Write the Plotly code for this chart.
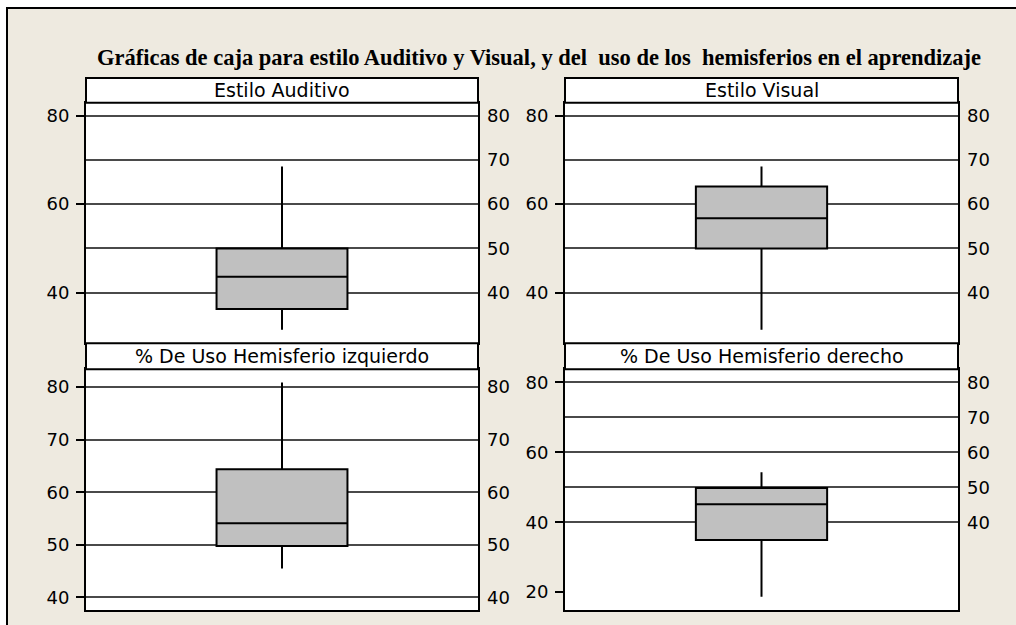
import plotly.graph_objects as go

W, H = 1016, 625

# Box-plot summaries for each panel
panels = ["Estilo Auditivo", "Estilo Visual",
          "% De Uso Hemisferio izquierdo", "% De Uso Hemisferio derecho"]
q1_vals = [36.3, 50.0, 49.8, 34.9]
median_vals = [43.6, 56.8, 54.1, 45.1]
q3_vals = [50.0, 64.0, 64.4, 49.8]
lower_whisker = [31.6, 31.6, 45.5, 18.7]
upper_whisker = [68.5, 68.5, 80.9, 54.3]

# Axis scales and tick labels for each panel
y_ranges = [[28.7, 82.9], [28.7, 82.9], [37.6, 83.4], [14.9, 83.7]]
left_ticks = [[40, 60, 80], [40, 60, 80], [40, 50, 60, 70, 80], [20, 40, 60, 80]]
right_ticks = [[40, 50, 60, 70, 80]] * 4

title = "Gráficas de caja para estilo Auditivo y Visual, y del\u00a0 uso de los\u00a0 hemisferios en el aprendizaje"

BG = "#EEEAE0"
BOX_FILL = "#C0C0C0"
GRID = "#4a4a4a"

# panel frames in pixels: (x0, x1), (ytop, ybottom)
cols = [(86, 478), (565, 958)]
rows = [(102.7, 342.7), (369.3, 610)]
strips = [(78, 102.7), (343.3, 369.3)]


def px_x(v):
    return v / W


def px_y(v):
    return 1 - v / H


fig = go.Figure()
layout = dict(
    width=W, height=H,
    margin=dict(l=0, r=0, t=0, b=0),
    paper_bgcolor=BG, plot_bgcolor="white",
    showlegend=False,
    font=dict(family="DejaVu Sans", size=18, color="black"),
)
shapes = []
annotations = []

for i, name in enumerate(panels):
    r, c = divmod(i, 2)
    n = i + 1
    xs = "x" if n == 1 else f"x{n}"
    ys = "y" if n == 1 else f"y{n}"
    yr = f"y{n + 4}"
    xdom = [px_x(cols[c][0]), px_x(cols[c][1])]
    ydom = [px_y(rows[r][1]), px_y(rows[r][0])]

    fig.add_trace(go.Box(
        x=[0], q1=[q1_vals[i]], median=[median_vals[i]], q3=[q3_vals[i]],
        lowerfence=[lower_whisker[i]], upperfence=[upper_whisker[i]],
        width=0.334, whiskerwidth=0,
        fillcolor=BOX_FILL, line=dict(color="black", width=2),
        xaxis=xs, yaxis=ys, hoverinfo="skip",
    ))

    layout[f"xaxis{n}" if n > 1 else "xaxis"] = dict(
        domain=xdom, range=[-0.5, 0.5], anchor=ys,
        showticklabels=False, ticks="", showgrid=False, zeroline=False,
        showline=True, mirror=True, linecolor="black", linewidth=2,
    )
    layout[f"yaxis{n}" if n > 1 else "yaxis"] = dict(
        domain=ydom, range=y_ranges[i], anchor=xs,
        tickvals=left_ticks[i], ticks="outside", ticklen=8, tickwidth=1.5,
        tickcolor="black", ticklabelstandoff=3,
        showgrid=False, zeroline=False,
        showline=True, mirror=True, linecolor="black", linewidth=2,
    )
    layout[f"yaxis{n + 4}"] = dict(
        overlaying=ys, anchor=xs, side="right", range=y_ranges[i],
        tickvals=right_ticks[i], ticks="", ticklabelstandoff=8,
        showgrid=True, gridcolor=GRID, gridwidth=1.5, zeroline=False,
        showline=False,
    )
    # invisible helper trace so the right-hand axis is drawn
    fig.add_trace(go.Scatter(x=[0], y=[median_vals[i]], mode="markers",
                             marker=dict(opacity=0), xaxis=xs, yaxis=yr,
                             hoverinfo="skip"))

    # strip header above each panel
    shapes.append(dict(
        type="rect", xref="paper", yref="paper",
        x0=xdom[0], x1=xdom[1],
        y0=px_y(strips[r][1]), y1=px_y(strips[r][0]),
        fillcolor="white", line=dict(color="black", width=2), layer="above",
    ))
    annotations.append(dict(
        text=name, xref="paper", yref="paper",
        x=(xdom[0] + xdom[1]) / 2,
        y=px_y((strips[r][0] + strips[r][1]) / 2),
        xanchor="center", yanchor="middle", showarrow=False,
        font=dict(family="DejaVu Sans", size=19, color="black"),
    ))

# white margin strips at the top and left, edged by a black frame line
shapes += [
    dict(type="rect", xref="paper", yref="paper", x0=0, x1=1,
         y0=px_y(8), y1=1, fillcolor="white", line=dict(width=0), layer="below"),
    dict(type="rect", xref="paper", yref="paper", x0=0, x1=px_x(7),
         y0=0, y1=1, fillcolor="white", line=dict(width=0), layer="below"),
    dict(type="path", xref="paper", yref="paper",
         path=f"M {px_x(7)},0 L {px_x(7)},{px_y(8)} L 1,{px_y(8)}",
         line=dict(color="black", width=2)),
]

annotations.append(dict(
    text=f"<b>{title}</b>", xref="paper", yref="paper",
    x=px_x(538.5), y=px_y(58), xanchor="center", yanchor="middle",
    showarrow=False,
    font=dict(family="Liberation Serif", size=22.5, color="black"),
))

layout["shapes"] = shapes
layout["annotations"] = annotations
fig.update_layout(**layout)
fig.write_html("out.html", config={"displayModeBar": False})
